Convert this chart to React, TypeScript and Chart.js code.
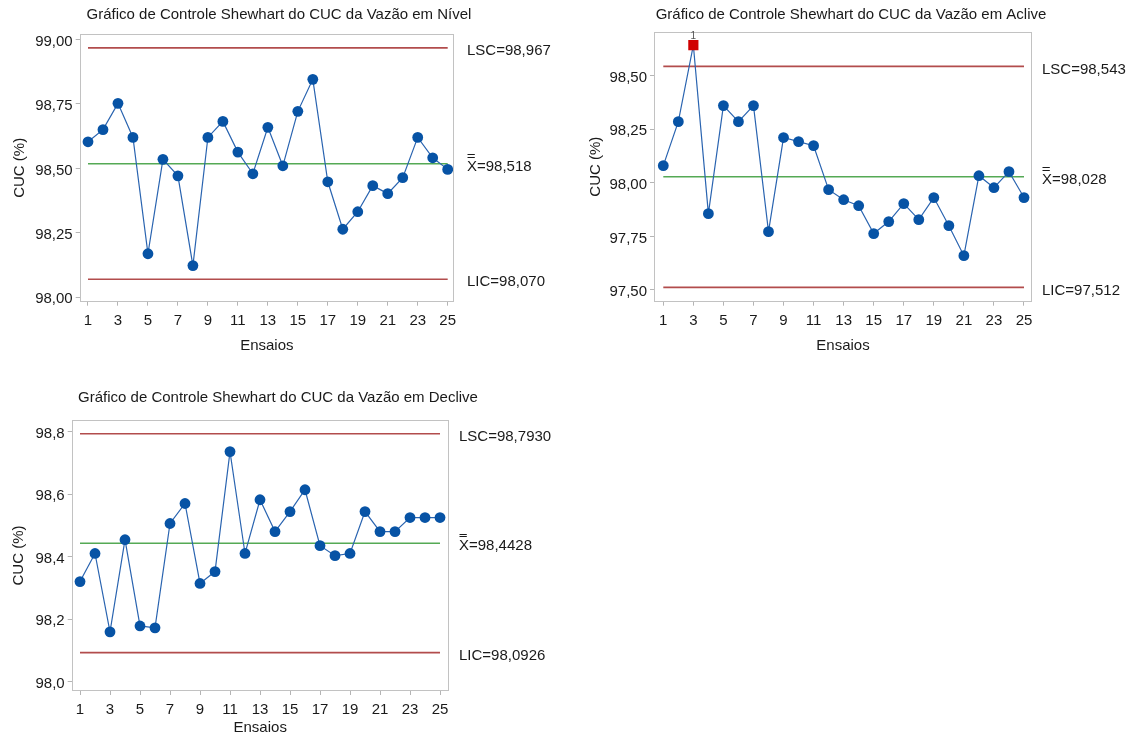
import React, { useEffect, useRef } from "react";
import { Chart, registerables } from "chart.js";

Chart.register(...registerables);

// ---------- data ----------
const ensaios = [1, 2, 3, 4, 5, 6, 7, 8, 9, 10, 11, 12, 13, 14, 15, 16, 17, 18, 19, 20, 21, 22, 23, 24, 25];
const xTickValues = [1, 3, 5, 7, 9, 11, 13, 15, 17, 19, 21, 23, 25];

const nivelValues = [98.603, 98.65, 98.752, 98.62, 98.169, 98.535, 98.471, 98.123, 98.62, 98.682, 98.563, 98.479, 98.659, 98.51, 98.721, 98.845, 98.448, 98.264, 98.332, 98.433, 98.402, 98.464, 98.62, 98.541, 98.496];
const nivelLimits = [98.967, 98.518, 98.07];
const nivelLimitLabels = ["LSC=98,967", "X=98,518", "LIC=98,070"];
const nivelYTicks = [98.0, 98.25, 98.5, 98.75, 99.0];

const acliveValues = [98.08, 98.285, 98.642, 97.856, 98.36, 98.285, 98.36, 97.772, 98.211, 98.192, 98.173, 97.968, 97.921, 97.893, 97.763, 97.819, 97.903, 97.828, 97.931, 97.8, 97.66, 98.033, 97.977, 98.052, 97.931];
const acliveLimits = [98.543, 98.028, 97.512];
const acliveLimitLabels = ["LSC=98,543", "X=98,028", "LIC=97,512"];
const acliveYTicks = [97.5, 97.75, 98.0, 98.25, 98.5];

const decliveValues = [98.32, 98.41, 98.159, 98.454, 98.178, 98.172, 98.506, 98.57, 98.314, 98.352, 98.736, 98.41, 98.582, 98.48, 98.544, 98.614, 98.435, 98.403, 98.41, 98.544, 98.48, 98.48, 98.525, 98.525, 98.525];
const decliveLimits = [98.793, 98.4428, 98.0926];
const decliveLimitLabels = ["LSC=98,7930", "X=98,4428", "LIC=98,0926"];
const decliveYTicks = [98.0, 98.2, 98.4, 98.6, 98.8];

// ---------- styling ----------
const FONT_FAMILY = '"Liberation Sans", Arial, Helvetica, sans-serif';
const TEXT_COLOR = "#1a1a1a";
const BLUE_LINE = "#2a64b0";
const BLUE_POINT = "#0753a5";
const RED_LIMIT = "#b24c4c";
const GREEN_MEAN = "#55a955";
const OUT_COLOR = "#d00000";
const FRAME = "#c2c2c2";

type Spec = {
  title: string;
  values: number[];
  limits: number[];
  limitLabels: string[];
  yTicks: number[];
  decimals: number;
  canvas: { left: number; top: number; width: number; height: number };
  area: { left: number; top: number; right: number; bottom: number };
  xRange: [number, number];
  yRange: [number, number];
  titlePos: [number, number];
  yTitleX: number;
  xTitleY: number;
  labelX: number;
};

const specs: Spec[] = [
  {
    title: "Gráfico de Controle Shewhart do CUC da Vazão em Nível",
    values: nivelValues,
    limits: nivelLimits,
    limitLabels: nivelLimitLabels,
    yTicks: nivelYTicks,
    decimals: 2,
    canvas: { left: 0, top: 0, width: 565, height: 365 },
    area: { left: 80.7, top: 35, right: 453, bottom: 300.7 },
    xRange: [0.513, 25.354],
    yRange: [97.987, 99.017],
    titlePos: [279, 15],
    yTitleX: 20,
    xTitleY: 346,
    labelX: 467,
  },
  {
    title: "Gráfico de Controle Shewhart do CUC da Vazão em Aclive",
    values: acliveValues,
    limits: acliveLimits,
    limitLabels: acliveLimitLabels,
    yTicks: acliveYTicks,
    decimals: 2,
    canvas: { left: 565, top: 0, width: 566, height: 365 },
    area: { left: 655, top: 32.7, right: 1031, bottom: 300.7 },
    xRange: [0.448, 25.466],
    yRange: [97.45, 98.7],
    titlePos: [851, 15],
    yTitleX: 596,
    xTitleY: 346,
    labelX: 1042,
  },
  {
    title: "Gráfico de Controle Shewhart do CUC da Vazão em Declive",
    values: decliveValues,
    limits: decliveLimits,
    limitLabels: decliveLimitLabels,
    yTicks: decliveYTicks,
    decimals: 1,
    canvas: { left: 0, top: 365, width: 565, height: 372 },
    area: { left: 72.7, top: 421, right: 447.7, bottom: 690 },
    xRange: [0.513, 25.513],
    yRange: [97.973, 98.834],
    titlePos: [278, 398],
    yTitleX: 19,
    xTitleY: 727.5,
    labelX: 459,
  },
];

const font = (size: number) => ({ family: FONT_FAMILY, size });

const decorPlugin = {
  id: "decor",
  afterDraw(chart: any, _args: any, opts: any) {
    const spec: Spec = opts.spec;
    const { ctx, chartArea: a, scales } = chart;
    const ox = spec.canvas.left;
    const oy = spec.canvas.top;
    ctx.save();
    // frame
    ctx.strokeStyle = FRAME;
    ctx.lineWidth = 1;
    ctx.strokeRect(Math.round(a.left) - 0.5, Math.round(a.top) - 0.5, Math.round(a.right - a.left) + 1, Math.round(a.bottom - a.top) + 1);
    // title
    ctx.fillStyle = TEXT_COLOR;
    ctx.font = `15px ${FONT_FAMILY}`;
    ctx.textAlign = "center";
    ctx.textBaseline = "middle";
    ctx.fillText(spec.title, spec.titlePos[0] - ox, spec.titlePos[1] - oy);
    // limit labels
    ctx.textAlign = "left";
    const y = scales.y;
    const lx = spec.labelX - ox;
    spec.limits.forEach((v, i) => {
      const py = y.getPixelForValue(v) + 3;
      ctx.fillStyle = TEXT_COLOR;
      ctx.fillText(spec.limitLabels[i], lx, py);
      if (i === 1) {
        const w = ctx.measureText("X").width;
        ctx.strokeStyle = TEXT_COLOR;
        ctx.lineWidth = 1;
        const top = py - 5.5;
        [top - 7, top - 4.5].forEach((by) => {
          ctx.beginPath();
          ctx.moveTo(lx + 0.5, Math.round(by) + 0.5);
          ctx.lineTo(lx + w * 0.78, Math.round(by) + 0.5);
          ctx.stroke();
        });
      }
    });
    // out-of-control markers
    const x = scales.x;
    ctx.font = `10px ${FONT_FAMILY}`;
    ctx.fillStyle = "#555";
    ctx.textAlign = "center";
    ctx.textBaseline = "alphabetic";
    spec.values.forEach((v, i) => {
      if (v > spec.limits[0] || v < spec.limits[2]) {
        ctx.fillText("1", x.getPixelForValue(ensaios[i]), y.getPixelForValue(v) - 6);
      }
    });
    ctx.restore();
  },
};

function buildConfig(spec: Spec): any {
  const { canvas, area } = spec;
  const yAxisWidth = area.left - canvas.left;
  const xAxisHeight = canvas.top + canvas.height - area.bottom;
  const isOut = (v: number) => v > spec.limits[0] || v < spec.limits[2];
  const first = ensaios[0];
  const last = ensaios[ensaios.length - 1];
  const limitLine = (v: number, color: string) => ({
    type: "line",
    data: [
      { x: first, y: v },
      { x: last, y: v },
    ],
    borderColor: color,
    borderWidth: 1.6,
    pointRadius: 0,
    order: 2,
  });
  return {
    type: "line",
    data: {
      datasets: [
        {
          data: spec.values.map((v, i) => ({ x: ensaios[i], y: v })),
          borderColor: BLUE_LINE,
          borderWidth: 1.2,
          pointRadius: spec.values.map((v) => (isOut(v) ? 7.2 : 5.4)),
          pointStyle: spec.values.map((v) => (isOut(v) ? "rect" : "circle")),
          pointBackgroundColor: spec.values.map((v) => (isOut(v) ? OUT_COLOR : BLUE_POINT)),
          pointBorderColor: spec.values.map((v) => (isOut(v) ? OUT_COLOR : BLUE_POINT)),
          pointBorderWidth: 0,
          order: 0,
        },
        limitLine(spec.limits[0], RED_LIMIT),
        limitLine(spec.limits[1], GREEN_MEAN),
        limitLine(spec.limits[2], RED_LIMIT),
      ],
    },
    options: {
      responsive: false,
      animation: false,
      events: [],
      layout: {
        padding: {
          left: 0,
          top: area.top - canvas.top,
          right: canvas.left + canvas.width - area.right,
          bottom: 0,
        },
      },
      plugins: {
        legend: { display: false },
        tooltip: { enabled: false },
        title: { display: false },
        decor: { spec },
      },
      scales: {
        x: {
          type: "linear",
          min: spec.xRange[0],
          max: spec.xRange[1],
          afterBuildTicks: (s: any) => {
            s.ticks = xTickValues.map((v) => ({ value: v }));
          },
          afterFit: (s: any) => {
            s.height = xAxisHeight;
          },
          ticks: {
            autoSkip: false,
            maxRotation: 0,
            padding: 6,
            color: TEXT_COLOR,
            font: font(15),
            callback: (v: any) => String(v),
          },
          grid: { display: true, drawOnChartArea: false, drawTicks: true, tickLength: 5, color: "#b5b5b5" },
          border: { display: false },
          title: {
            display: true,
            text: "Ensaios",
            color: TEXT_COLOR,
            font: font(15),
            padding: { top: 0, bottom: canvas.top + canvas.height - spec.xTitleY - 9 },
          },
        },
        y: {
          type: "linear",
          min: spec.yRange[0],
          max: spec.yRange[1],
          afterBuildTicks: (s: any) => {
            s.ticks = spec.yTicks.map((v) => ({ value: v }));
          },
          afterFit: (s: any) => {
            s.width = yAxisWidth;
          },
          ticks: {
            padding: 3,
            labelOffset: 2,
            color: TEXT_COLOR,
            font: font(15),
            callback: (v: any) => Number(v).toFixed(spec.decimals).replace(".", ","),
          },
          grid: { display: true, drawOnChartArea: false, drawTicks: true, tickLength: 5, color: "#b5b5b5" },
          border: { display: false },
          title: {
            display: true,
            text: "CUC (%)",
            color: TEXT_COLOR,
            font: font(15),
            padding: { top: spec.yTitleX - canvas.left - 9, bottom: 0 },
          },
        },
      },
    },
    plugins: [decorPlugin],
  };
}

function ControlChart({ spec }: { spec: Spec }) {
  const ref = useRef<HTMLCanvasElement>(null);
  useEffect(() => {
    if (!ref.current) return;
    const chart = new Chart(ref.current, buildConfig(spec));
    return () => chart.destroy();
  }, [spec]);
  const c = spec.canvas;
  return (
    <canvas
      ref={ref}
      width={c.width}
      height={c.height}
      style={{ position: "absolute", left: c.left, top: c.top, width: c.width, height: c.height }}
    />
  );
}

export default function App() {
  return (
    <div style={{ position: "absolute", left: 0, top: 0, width: 1131, height: 737, background: "#fff", overflow: "hidden" }}>
      {specs.map((s, i) => (
        <ControlChart key={i} spec={s} />
      ))}
    </div>
  );
}
